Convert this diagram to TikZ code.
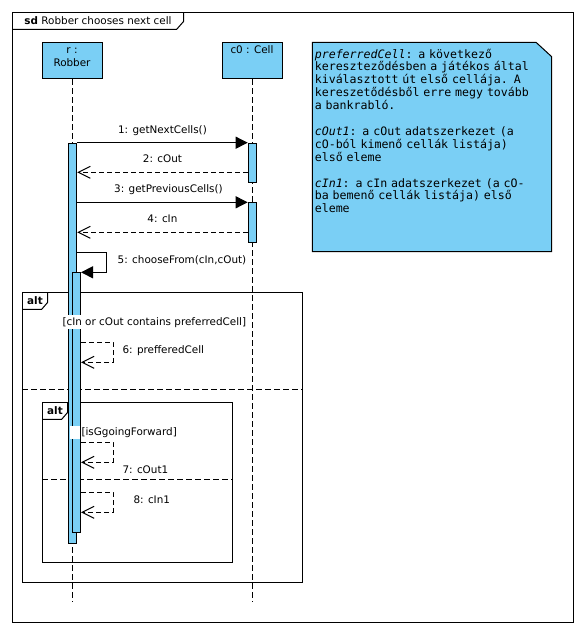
\documentclass[tikz,border=0pt]{standalone}
\usepackage{fontspec}
\setmainfont{DejaVu Sans}
\newfontfamily\notefont{DejaVu Sans Mono}
\usetikzlibrary{arrows.meta}
\usetikzlibrary{positioning}
\usetikzlibrary{calc}
\definecolor{lifeblue}{RGB}{122,207,245}

\begin{document}
\begin{tikzpicture}[x=1pt,y=-1pt,line width=1pt,font=\fontsize{10.4}{13}\selectfont]

		\tikzset{lifebox/.style = {shape=rectangle,draw,fill=lifeblue,minimum width=60pt,anchor=north,align=center,inner xsep=1pt,inner ysep=1pt,text height=9.7pt,text depth=24.3pt}}
		\tikzset{actbar/.style = {shape=rectangle,draw,fill=lifeblue,minimum width=8pt,inner sep=0pt,anchor=north}}
		\tikzset{fragment/.style = {shape=rectangle,draw,anchor=north west,inner sep=0pt}}
		\tikzset{tab/.style = {anchor=north west,inner sep=0pt,minimum height=16pt,font=\fontsize{10.4}{13}\selectfont\bfseries}}
		\tikzset{lifeline/.style = {dash pattern=on 6pt off 3pt}}
		\tikzset{call/.style = {-{Triangle[length=12pt,width=12pt]}}}
		\tikzset{reply/.style = {dash pattern=on 5pt off 3pt,-{Straight Barb[length=12pt,width=12pt]}}}
		\tikzset{msglabel/.style = {above=9pt,inner sep=0pt,text depth=0pt}}
		\tikzset{selflabel/.style = {inner sep=0pt,text depth=0pt}}
		\tikzset{guard/.style = {inner sep=1pt,anchor=west}}

		\useasboundingbox (0,0) rectangle (587,635);
		\fill[white] (0,0) rectangle (587,635);

		% frame
		\node[draw,anchor=north west,minimum width=560.7pt,minimum height=609.7pt,inner sep=0pt] (frame) at (12.3,12.3) {};
		\node[tab,minimum width=170.4pt,font=\fontsize{10.4}{13}\selectfont] (frametab) at (frame.north west) {\textbf{sd} Robber chooses next cell};
		\draw (frametab.north east) -- ([yshift=8pt]frametab.south east) -- ([xshift=-7pt]frametab.south east) -- (frametab.south west);

		% note
		\coordinate (noteTL) at (312.3,42.3);
		\coordinate (noteBR) at (551.7,251.7);
		\coordinate (noteTR) at (noteBR |- noteTL);
		\filldraw[fill=lifeblue] (noteTL) -- ([xshift=-15.7pt]noteTR) -- ([yshift=-14.4pt]noteTR) -- (noteBR) -- (noteTL |- noteBR) -- cycle;
		\node[anchor=north west,inner xsep=2pt,inner ysep=6pt,text width=236pt,align=left,font=\notefont\fontsize{11.6}{12.9}\selectfont] (notetext) at (noteTL) {\textit{preferredCell}: a következő\\
kereszteződésben a játékos által\\
kiválasztott út első cellája. A\\
kereszetődésből erre megy tovább\\
a bankrabló.\\[12.9pt]
\textit{cOut1}: a cOut adatszerkezet (a\\
cO-ból kimenő cellák listája)\\
első eleme\\[12.9pt]
\textit{cIn1}: a cIn adatszerkezet (a cO-\\
ba bemenő cellák listája) első\\
eleme};

		% fragments
		\node[fragment,minimum width=280pt,minimum height=290pt] (alt1) at (22.3,292.3) {};
		\node[tab,minimum width=24.4pt] (alt1tab) at (alt1.north west) {alt};
		\draw (alt1tab.north east) -- ([yshift=7pt]alt1tab.south east) -- ([xshift=-6pt]alt1tab.south east) -- (alt1tab.south west);
		\coordinate (sep1) at (0,389);
		\draw[lifeline] (alt1.west |- sep1) -- (alt1.east |- sep1);

		\node[fragment,minimum width=190pt,minimum height=160pt] (alt2) at (42.3,402.3) {};
		\node[tab,minimum width=24.4pt] (alt2tab) at (alt2.north west) {alt};
		\draw (alt2tab.north east) -- ([yshift=7pt]alt2tab.south east) -- ([xshift=-6pt]alt2tab.south east) -- (alt2tab.south west);
		\coordinate (sep2) at (0,479.3);
		\draw[lifeline] (alt2.west |- sep2) -- (alt2.east |- sep2);

		% lifelines
		\node[lifebox,text height=22.7pt,text depth=11.3pt] (r) at (72,42.3) {r :\\Robber};
		\node[lifebox] (c0) at (252,42.3) {c0 : Cell};
		\coordinate (rEnd) at (72,602);
		\coordinate (c0End) at (252,602);
		\draw[lifeline] (r.south) -- (rEnd);
		\draw[lifeline] (c0.south) -- (c0End);

		% activations
		\node[actbar,minimum height=400.3pt] (ra) at (72.7,142.7) {};
		\node[actbar,minimum height=259.4pt] (rb) at (76.5,272.3) {};
		\node[actbar,minimum height=39.6pt] (ca1) at (252.2,142.7) {};
		\node[actbar,minimum height=40pt] (ca2) at (252.2,202.3) {};

		% messages
		\coordinate (m2) at (0,172.3);
		\coordinate (m4) at (0,232.3);
		\coordinate (m5) at (0,252.3);
		\coordinate (m6) at (0,342.3);
		\coordinate (m7) at (0,442.3);
		\coordinate (m8) at (0,492.3);

		\draw[call] (ra.north east) -- node[msglabel]{1: getNextCells()} (ca1.north west);

		\draw[reply] (ca1.west |- m2) -- node[msglabel]{2: cOut} (ra.east |- m2);

		\draw[call] (ra.east |- ca2.north) -- node[msglabel,xshift=6pt]{3: getPreviousCells()} (ca2.north west);

		\draw[reply] (ca2.west |- m4) -- node[msglabel]{4: cIn} (ra.east |- m4);

		\draw[call] (ra.east |- m5) -- ++(29,0) |- node[selflabel,pos=0.25,right=11pt,yshift=3pt]{5: chooseFrom(cIn,cOut)} (rb.north east);

		\draw[reply] (rb.east |- m6) -- ++(32,0) |- node[selflabel,pos=0.25,right=9pt,yshift=3pt]{6: prefferedCell} ++(-32,20);

		\draw[reply] (rb.east |- m7) -- ++(32,0) |- node[selflabel,pos=0.5,anchor=north west,xshift=9pt,yshift=-3pt]{7: cOut1} ++(-32,20);

		\draw[reply] (rb.east |- m8) -- ++(32,0) |- node[selflabel,pos=0.25,right=20pt,yshift=3pt]{8: cIn1} ++(-32,20);

		% guards
		\node[guard,fill=white,inner ysep=2pt] (g1) at (61,322.3) {[cIn or cOut contains preferredCell]};
		\node[guard] (g2) at (80,432.3) {[isGgoingForward]};
		\fill[white] ([xshift=-10.5pt]g2.south west) rectangle ([xshift=-0.5pt]g2.north west);

\end{tikzpicture}
\end{document}
